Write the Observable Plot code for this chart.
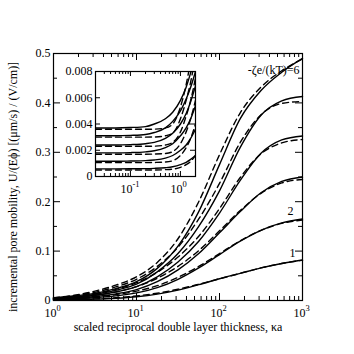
<!DOCTYPE html>
<html>
<head>
<meta charset="utf-8">
<script src="https://cdn.jsdelivr.net/npm/d3@7"></script>
<script src="https://cdn.jsdelivr.net/npm/@observablehq/plot@0.6"></script>
<style>
  html, body { margin: 0; padding: 0; background: white; }
  #wrap { position: relative; width: 354px; height: 354px; overflow: hidden; }
  #wrap svg { position: absolute; font-family: "Liberation Serif", "Times New Roman", Times, serif; }
  #wrap svg text { font-family: "Liberation Serif", "Times New Roman", Times, serif; }
</style>
</head>
<body>
<div id="wrap"></div>
<script>
// ---------- main panel data ----------
const kappaMain = [1, 1.778, 3.162, 5.623, 10, 17.78, 31.62, 56.23, 100, 177.8, 316.2, 562.3, 1000];
const zetaLevels = [1, 2, 3, 4, 5, 6];
const solid1 = [0.0009, 0.0016, 0.0027, 0.0046, 0.0077, 0.013, 0.021, 0.032, 0.044, 0.055, 0.066, 0.075, 0.082];
const dashed1 = [0.0007, 0.0016, 0.0032, 0.0057, 0.0093, 0.0148, 0.0228, 0.033, 0.044, 0.055, 0.066, 0.075, 0.0815];
const solid2 = [0.002, 0.0034, 0.0057, 0.0093, 0.0155, 0.026, 0.043, 0.066, 0.093, 0.12, 0.142, 0.157, 0.165];
const dashed2 = [0.0016, 0.0038, 0.0072, 0.0118, 0.019, 0.03, 0.047, 0.069, 0.095, 0.121, 0.142, 0.156, 0.163];
const solid3 = [0.0031, 0.005, 0.0082, 0.0135, 0.022, 0.038, 0.062, 0.095, 0.137, 0.18, 0.218, 0.241, 0.25];
const dashed3 = [0.0025, 0.0055, 0.0105, 0.0175, 0.028, 0.045, 0.069, 0.101, 0.141, 0.182, 0.217, 0.238, 0.245];
const solid4 = [0.004, 0.0066, 0.0105, 0.0172, 0.028, 0.048, 0.078, 0.12, 0.177, 0.243, 0.298, 0.325, 0.333];
const dashed4 = [0.0034, 0.0072, 0.0135, 0.0225, 0.036, 0.057, 0.088, 0.13, 0.186, 0.249, 0.297, 0.319, 0.326];
const solid5 = [0.005, 0.0078, 0.0125, 0.0205, 0.033, 0.058, 0.095, 0.15, 0.222, 0.31, 0.375, 0.404, 0.413];
const dashed5 = [0.0044, 0.009, 0.0165, 0.0275, 0.043, 0.069, 0.108, 0.165, 0.237, 0.32, 0.376, 0.399, 0.403];
const solid6 = [0.0058, 0.0092, 0.0145, 0.024, 0.038, 0.065, 0.11, 0.18, 0.275, 0.368, 0.425, 0.462, 0.49];
const dashed6 = [0.0053, 0.0105, 0.019, 0.031, 0.048, 0.077, 0.125, 0.2, 0.295, 0.38, 0.432, 0.465, 0.489];

// ---------- inset data ----------
const kappaInset = [0.02, 0.05, 0.1, 0.2, 0.3, 0.5, 0.7, 1, 1.3, 1.6, 2];
const insetSolid1 = [0.00058, 0.00058, 0.00059, 0.0006, 0.00062, 0.00067, 0.00074, 0.0009, 0.00108, 0.0013, 0.0016];
const insetSolid2 = [0.00116, 0.00116, 0.00118, 0.00121, 0.00126, 0.0014, 0.0016, 0.002, 0.0024, 0.0029, 0.0036];
const insetSolid3 = [0.0018, 0.0018, 0.00182, 0.00188, 0.00196, 0.0022, 0.0025, 0.0031, 0.0037, 0.0044, 0.0054];
const insetSolid4 = [0.0024, 0.0024, 0.00243, 0.0025, 0.0026, 0.0029, 0.0033, 0.004, 0.0048, 0.0057, 0.0069];
const insetSolid5 = [0.0031, 0.0031, 0.00313, 0.0032, 0.00335, 0.0037, 0.0042, 0.005, 0.0059, 0.0068, 0.008];
const insetSolid6 = [0.0037, 0.0037, 0.00373, 0.0038, 0.004, 0.0044, 0.0049, 0.0058, 0.0068, 0.0079, 0.0092];
const insetDashed1 = [0.0005, 0.0005, 0.0005, 0.0005, 0.0005, 0.00052, 0.00056, 0.0007, 0.0009, 0.00115, 0.0016];
const insetDashed2 = [0.00106, 0.00106, 0.00106, 0.00106, 0.00107, 0.0011, 0.0012, 0.0016, 0.0022, 0.0029, 0.004];
const insetDashed3 = [0.0017, 0.0017, 0.0017, 0.0017, 0.00171, 0.00175, 0.0019, 0.0025, 0.0034, 0.0044, 0.0058];
const insetDashed4 = [0.0023, 0.0023, 0.0023, 0.0023, 0.00231, 0.0024, 0.0026, 0.0034, 0.0046, 0.0058, 0.0075];
const insetDashed5 = [0.003, 0.003, 0.003, 0.003, 0.00301, 0.0031, 0.0033, 0.0044, 0.0058, 0.0072, 0.0092];
const insetDashed6 = [0.0036, 0.0036, 0.0036, 0.0036, 0.00361, 0.0037, 0.004, 0.0053, 0.007, 0.0088, 0.011];

// ---------- ticks and labels ----------
const xMainMajor = [1, 10, 100, 1000];
const xMainExp = ["0", "1", "2", "3"];
const xMainMinor = [2,3,4,5,6,7,8,9,20,30,40,50,60,70,80,90,200,300,400,500,600,700,800,900];
const yMainMajor = [0, 0.1, 0.2, 0.3, 0.4, 0.5];
const yMainLabels = ["0", "0.1", "0.2", "0.3", "0.4", "0.5"];
const yMainMinor = [0.05, 0.15, 0.25, 0.35, 0.45];
const xInsetMajor = [0.1, 1];
const xInsetExp = ["-1", "0"];
const xInsetMinor = [0.02,0.03,0.04,0.05,0.06,0.07,0.08,0.09,0.2,0.3,0.4,0.5,0.6,0.7,0.8,0.9,2];
const yInsetMajor = [0, 0.002, 0.004, 0.006, 0.008];
const yInsetLabels = ["0", "0.002", "0.004", "0.006", "0.008"];
const xTitle = "scaled reciprocal double layer thickness, κa";
const yTitle = "incremental pore mobility, U/(Eϕ) [(μm/s) / (V/cm)]";
const curveLabels = ["-ζe/(kT)=6", "2", "1"];

const mainSolid = [solid1, solid2, solid3, solid4, solid5, solid6];
const mainDashed = [dashed1, dashed2, dashed3, dashed4, dashed5, dashed6];
const insetSolid = [insetSolid1, insetSolid2, insetSolid3, insetSolid4, insetSolid5, insetSolid6];
const insetDashed = [insetDashed1, insetDashed2, insetDashed3, insetDashed4, insetDashed5, insetDashed6];

function table(xs, sets) {
  const rows = [];
  sets.forEach((vals, i) => vals.forEach((v, j) => rows.push({k: xs[j], v, zeta: zetaLevels[i]})));
  return rows;
}

const FONT = "Liberation Serif, Times New Roman, Times, serif";
const wrap = document.getElementById("wrap");
const T = {fontFamily: FONT, fill: "black"};

// ---------- main plot ----------
const W = 354, H = 354, mL = 53, mR = 52, mT = 53, mB = 54;
const iW = W - mL - mR, iH = H - mT - mB;
const MAJ = 7, MIN = 4;

const main = Plot.plot({
  width: W, height: H,
  marginLeft: mL, marginRight: mR, marginTop: mT, marginBottom: mB,
  x: {type: "log", domain: [1, 1000], axis: null},
  y: {domain: [0, 0.5], axis: null},
  style: {fontFamily: FONT, fontSize: "12px", background: "transparent", color: "black", overflow: "visible"},
  marks: [
    Plot.line(table(kappaMain, mainSolid), {x: "k", y: "v", z: "zeta", stroke: "black", strokeWidth: 1.4, curve: "monotone-x"}),
    Plot.line(table(kappaMain, mainDashed), {x: "k", y: "v", z: "zeta", stroke: "black", strokeWidth: 1.4, strokeDasharray: "6,4", curve: "monotone-x"}),
    // ticks (inward)
    Plot.tickX(xMainMajor, {x: d => d, insetTop: iH - MAJ, stroke: "black"}),
    Plot.tickX(xMainMinor, {x: d => d, insetTop: iH - MIN, stroke: "black"}),
    Plot.tickX(xMainMajor, {x: d => d, insetBottom: iH - MAJ, stroke: "black"}),
    Plot.tickX(xMainMinor, {x: d => d, insetBottom: iH - MIN, stroke: "black"}),
    Plot.tickY(yMainMajor, {y: d => d, insetRight: iW - MAJ, stroke: "black"}),
    Plot.tickY(yMainMinor, {y: d => d, insetRight: iW - MIN, stroke: "black"}),
    Plot.tickY(yMainMajor, {y: d => d, insetLeft: iW - MAJ, stroke: "black"}),
    Plot.tickY(yMainMinor, {y: d => d, insetLeft: iW - MIN, stroke: "black"}),
    Plot.frame({stroke: "black", strokeWidth: 1.2}),
    // tick labels
    Plot.text(yMainMajor, {x: 1, y: d => d, text: (d, i) => yMainLabels[i], textAnchor: "end", dx: -3, fontSize: 12, ...T}),
    Plot.text(xMainMajor, {x: d => d, y: 0, text: () => "10", textAnchor: "end", dx: 3, dy: 13, fontSize: 12, ...T}),
    Plot.text(xMainMajor, {x: d => d, y: 0, text: (d, i) => xMainExp[i], textAnchor: "start", dx: 3, dy: 7.5, fontSize: 8.5, ...T}),
    // x axis title
    Plot.text([xTitle], {frameAnchor: "bottom", dy: 30, fontSize: 12, ...T}),
    // curve labels
    Plot.text([curveLabels[0]], {frameAnchor: "top-right", dx: -3, dy: 12, textAnchor: "end", fontSize: 12, ...T}),
    Plot.text([curveLabels[1]], {frameAnchor: "right", dx: -9, dy: 34, fontSize: 12, ...T}),
    Plot.text([curveLabels[2]], {frameAnchor: "right", dx: -7, dy: 76, fontSize: 12, ...T})
  ]
});
main.style.left = "0px"; main.style.top = "0px";
// rotated y-axis title, added as real text into the plot's svg
d3.select(main).append("text")
  .attr("transform", "translate(14,187) rotate(-90)")
  .attr("text-anchor", "middle")
  .attr("dominant-baseline", "middle")
  .attr("font-family", FONT)
  .attr("font-size", 12)
  .attr("fill", "black")
  .text(yTitle);
wrap.appendChild(main);

// ---------- inset plot ----------
const IW = 145, IH = 134, imL = 40, imR = 5, imT = 5, imB = 24;
const iiW = IW - imL - imR, iiH = IH - imT - imB;
const IMAJ = 5, IMIN = 3;
const inset = Plot.plot({
  width: IW, height: IH,
  marginLeft: imL, marginRight: imR, marginTop: imT, marginBottom: imB,
  x: {type: "log", domain: [0.02, 2], axis: null},
  y: {domain: [0, 0.008], axis: null},
  style: {fontFamily: FONT, fontSize: "12px", background: "transparent", color: "black", overflow: "visible"},
  marks: [
    Plot.line(table(kappaInset, insetSolid), {x: "k", y: "v", z: "zeta", stroke: "black", strokeWidth: 1.4, curve: "monotone-x", clip: true}),
    Plot.line(table(kappaInset, insetDashed), {x: "k", y: "v", z: "zeta", stroke: "black", strokeWidth: 1.4, strokeDasharray: "6,4", curve: "monotone-x", clip: true}),
    Plot.tickX(xInsetMajor, {x: d => d, insetTop: iiH - IMAJ, stroke: "black"}),
    Plot.tickX(xInsetMinor, {x: d => d, insetTop: iiH - IMIN, stroke: "black"}),
    Plot.tickX(xInsetMajor, {x: d => d, insetBottom: iiH - IMAJ, stroke: "black"}),
    Plot.tickX(xInsetMinor, {x: d => d, insetBottom: iiH - IMIN, stroke: "black"}),
    Plot.tickY(yInsetMajor, {y: d => d, insetRight: iiW - IMAJ, stroke: "black"}),
    Plot.tickY(yInsetMajor, {y: d => d, insetLeft: iiW - IMAJ, stroke: "black"}),
    Plot.frame({stroke: "black", strokeWidth: 1.2}),
    Plot.text(yInsetMajor, {x: 0.02, y: d => d, text: (d, i) => yInsetLabels[i], textAnchor: "end", dx: -3, fontSize: 12, ...T}),
    Plot.text(xInsetMajor, {x: d => d, y: 0, text: () => "10", textAnchor: "end", dx: 2, dy: 13, fontSize: 12, ...T}),
    Plot.text(xInsetMajor, {x: d => d, y: 0, text: (d, i) => xInsetExp[i], textAnchor: "start", dx: 2, dy: 7.5, fontSize: 8.5, ...T})
  ]
});
inset.style.left = "55px"; inset.style.top = "66px";
wrap.appendChild(inset);
</script>
</body>
</html>
